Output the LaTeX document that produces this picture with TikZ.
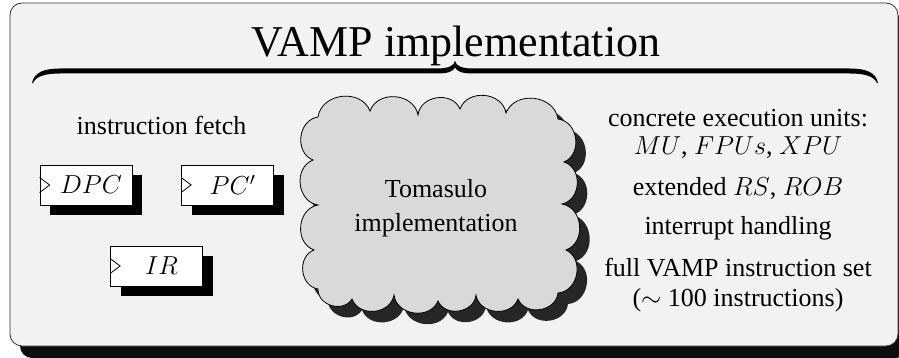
\RequirePackage{fix-cm}
\documentclass[tikz,border=0pt]{standalone}
\usepackage{fontspec}
\setmainfont{Liberation Serif}
\usetikzlibrary{shadows}
\definecolor{framefill}{gray}{0.95}
\definecolor{cloudfill}{gray}{0.85}
\definecolor{cloudshade}{gray}{0.15}
\tikzset{puff/.style={bend left=75, looseness=1.2}}
% outline of the Tomasulo cloud: cusps joined by outward puffs, clockwise
\newcommand{\cloudoutline}{%
  (318,117) to[puff] (370,111) to[puff] (418,115)
  to[puff] (460,109) to[puff] (506,113) to[puff] (558,119)
  to[puff] (564,162) to[puff] (562,204) to[puff] (566,250)
  to[puff] (558,293)
  to[puff] (518,299) to[puff] (476,295) to[puff] (438,301)
  to[puff] (394,295) to[puff] (352,299) to[puff] (318,289)
  to[puff] (314,250) to[puff] (318,205) to[puff] (313,160)
  to[puff] (318,117) -- cycle}
\begin{document}
\begin{tikzpicture}[x=1pt,y=-1pt,
  txt/.style={font=\fontsize{26}{30}\selectfont, align=center, inner sep=0pt},
  reg/.style={draw=black, fill=white, line width=0.8pt,
    minimum width=92pt, minimum height=40pt, inner sep=0pt,
    font=\fontsize{26}{30}\selectfont,
    drop shadow={shadow xshift=10pt, shadow yshift=-10pt, fill=black, opacity=1}},
  clk/.style={line width=0.8pt},
]
\useasboundingbox (0,0) rectangle (899,358);
\clip (0,0) rectangle (899,358);

% outer frame with its shadow
\node[draw=black!80, fill=framefill, line width=0.8pt, rounded corners=12pt,
  minimum width=888pt, minimum height=343pt, inner sep=0pt,
  drop shadow={shadow xshift=10pt, shadow yshift=-12pt, fill=black!95, opacity=1}]
  (frame) at (454,174.5) {};

% title and brace
\node[font=\fontsize{44}{50}\selectfont, anchor=base, inner sep=0pt] (title) at (456,57) {VAMP implementation};
\fill[black]
  (32,83) .. controls (34,72) and (45,68.5) .. (60,68.5) -- (437,68.5)
  .. controls (448,68.5) and (454,66) .. (455,61)
  .. controls (456,66) and (462,68.5) .. (473,68.5) -- (850,68.5)
  .. controls (865,68.5) and (876,72) .. (878,83)
  -- (877,83) .. controls (874,76) and (864,73.5) .. (850,73.5) -- (473,73.5)
  .. controls (462,73.5) and (457,71.5) .. (455,67.5)
  .. controls (453,71.5) and (448,73.5) .. (437,73.5) -- (60,73.5)
  .. controls (46,73.5) and (36,76) .. (33,83) -- cycle;

% instruction fetch registers
\node[txt, anchor=base] (fetch) at (161.5,135) {instruction fetch};
\node[reg] (dpc) at (86,185) {\hspace*{10pt}$DPC$};
\node[reg] (pcp) at (227.5,185) {\hspace*{10pt}$PC'$};
\node[reg] (ir)  at (156.5,266) {\hspace*{10pt}$IR$};
\foreach \r in {dpc,pcp,ir}
  \draw[clk] ([yshift=7.5pt]\r.west) -- ([xshift=10pt]\r.west) -- ([yshift=-7.5pt]\r.west);

% Tomasulo cloud with its shadow
\fill[cloudshade, shift={(10,11)}] \cloudoutline;
\draw[fill=cloudfill, line width=0.8pt] \cloudoutline;
\node[txt, text depth=0pt] (toma) at (436,188) {Tomasulo};
\node[txt] (tomb) at (436,225) {implementation};

% features of the implementation
\node[txt] (units) at (738,118) {concrete execution units:};
\node[txt] (unitl) at (738,148) {$MU$, $FPUs$, $XPU$};
\node[txt] (ext)   at (738,188) {extended $RS$, $ROB$};
\node[txt] (intr)  at (738,228) {interrupt handling};
\node[txt] (full)  at (738,268) {full VAMP instruction set};
\node[txt] (hund)  at (738,300) {($\sim$ 100 instructions)};
\end{tikzpicture}
\end{document}
